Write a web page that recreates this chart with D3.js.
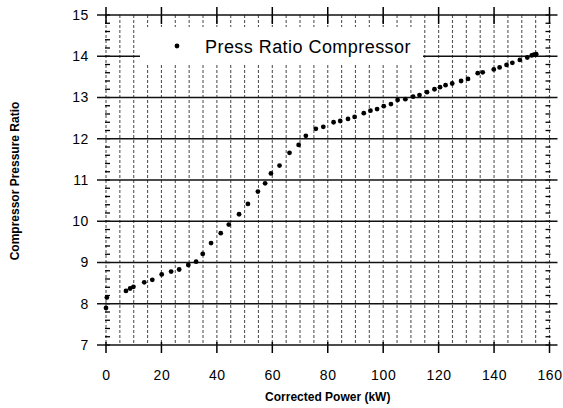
<!DOCTYPE html>
<html>
<head>
<meta charset="utf-8">
<script src="https://cdn.jsdelivr.net/npm/d3@7"></script>
<style>
  html, body { margin: 0; padding: 0; background: #fff; }
  svg { display: block; }
  text { font-family: "Liberation Sans", Arial, Helvetica, sans-serif; fill: #000; }
</style>
</head>
<body>
<svg id="chart" width="563" height="408"></svg>
<script>
// Compressor pressure ratio against corrected power
const power = [0, 0.3, 7.2, 8.7, 9.9, 13.8, 16.7, 20.1, 23.5, 26.4, 29.7, 32.5, 34.9, 37.9,
  41.4, 44.3, 48.0, 51.2, 54.8, 57.4, 59.5, 62.6, 66.2, 69.5, 72.1, 75.7, 78.4, 82.1,
  84.5, 87.3, 89.7, 93.0, 95.4, 97.8, 100.2, 102.8, 105.2, 108.0, 110.8, 113.1, 115.8,
  118.5, 120.5, 122.5, 124.9, 128.1, 130.6, 134.1, 135.9, 139.9, 142.0, 144.5, 146.6,
  149.3, 152.0, 153.6, 154.4, 155.2];
const ratio = [7.9, 8.15, 8.31, 8.37, 8.41, 8.52, 8.58, 8.71, 8.78, 8.83, 8.94, 9.02, 9.21, 9.47,
  9.71, 9.92, 10.17, 10.42, 10.72, 10.92, 11.16, 11.35, 11.66, 11.85, 12.07, 12.24, 12.29, 12.40,
  12.43, 12.48, 12.53, 12.62, 12.68, 12.72, 12.79, 12.84, 12.94, 12.96, 13.02, 13.06, 13.13,
  13.20, 13.25, 13.30, 13.34, 13.40, 13.45, 13.59, 13.61, 13.68, 13.73, 13.79, 13.84,
  13.91, 13.97, 14.02, 14.04, 14.05];
const xTicks = [0, 20, 40, 60, 80, 100, 120, 140, 160];
const yTicks = [7, 8, 9, 10, 11, 12, 13, 14, 15];
const seriesName = "Press Ratio Compressor";
const xTitle = "Corrected Power (kW)";
const yTitle = "Compressor Pressure Ratio";

const svg = d3.select("#chart");
const x = d3.scaleLinear().domain([0, 160]).range([106, 549.5]);
const y = d3.scaleLinear().domain([7, 15]).range([345, 15]);

const grid = svg.append("g");

// vertical dashed grid every 5 kW
grid.selectAll("line.v").data(d3.range(0, 161, 5)).join("line")
  .attr("x1", d => x(d)).attr("x2", d => x(d))
  .attr("y1", y(15)).attr("y2", y(7))
  .attr("stroke", "#555").attr("stroke-width", 1.1)
  .attr("stroke-dasharray", "3,2");

// major ticks at every 20 kW crossing the top and bottom frame
grid.selectAll("line.tt").data(xTicks).join("line")
  .attr("x1", d => x(d)).attr("x2", d => x(d))
  .attr("y1", y(15) - 8).attr("y2", y(15) + 9)
  .attr("stroke", "#000").attr("stroke-width", 1.5);
grid.selectAll("line.tb").data(xTicks).join("line")
  .attr("x1", d => x(d)).attr("x2", d => x(d))
  .attr("y1", y(7) - 3).attr("y2", y(7) + 8)
  .attr("stroke", "#000").attr("stroke-width", 1.5);

// minor ticks on both side frames, every 0.2
const minor = d3.range(7, 15.001, 0.2);
grid.selectAll("line.ml").data(minor).join("line")
  .attr("x1", x(0) - 1).attr("x2", x(0) + 4)
  .attr("y1", d => y(d)).attr("y2", d => y(d))
  .attr("stroke", "#000").attr("stroke-width", 1.3);
grid.selectAll("line.mr").data(minor).join("line")
  .attr("x1", x(160) - 4).attr("x2", x(160) + 1)
  .attr("y1", d => y(d)).attr("y2", d => y(d))
  .attr("stroke", "#000").attr("stroke-width", 1.3);

// horizontal grid at every unit of pressure ratio
grid.selectAll("line.h").data(yTicks).join("line")
  .attr("x1", x(0) - 9).attr("x2", x(160) + 8)
  .attr("y1", d => y(d)).attr("y2", d => y(d))
  .attr("stroke", "#111").attr("stroke-width", 1.6);

// legend box
const lg = svg.append("g");
lg.append("rect").attr("x", 140).attr("y", 27).attr("width", 283).attr("height", 36)
  .attr("fill", "#fff");
lg.append("circle").attr("cx", 177).attr("cy", 46).attr("r", 2.4).attr("fill", "#000");
lg.append("text").attr("x", 205).attr("y", 52.5).attr("font-size", 18)
  .attr("letter-spacing", 0.45).text(seriesName);

// data points
svg.append("g").selectAll("circle").data(power.map((p, i) => [p, ratio[i]])).join("circle")
  .attr("cx", d => x(d[0])).attr("cy", d => y(d[1])).attr("r", 2.4).attr("fill", "#000");

// axis labels
const xAxis = svg.append("g").attr("transform", `translate(0,${y(7) + 25})`)
  .call(d3.axisBottom(x).tickValues(xTicks).tickSize(0).tickPadding(0));
xAxis.select(".domain").remove();
xAxis.selectAll("text").attr("font-size", 14).attr("dy", "0.71em")
  .attr("letter-spacing", 0.6)
  .style("font-family", "Liberation Sans, Arial, sans-serif");

const yAxis = svg.append("g").attr("transform", `translate(${x(0) - 17},0)`)
  .call(d3.axisLeft(y).tickValues(yTicks).tickSize(0).tickPadding(0));
yAxis.select(".domain").remove();
yAxis.selectAll("text").attr("font-size", 14).attr("letter-spacing", 0.6)
  .style("font-family", "Liberation Sans, Arial, sans-serif");

svg.append("text").attr("x", (x(0) + x(160)) / 2).attr("y", 401)
  .attr("text-anchor", "middle").attr("font-size", 12).attr("font-weight", "bold")
  .text(xTitle);
svg.append("text").attr("transform", "translate(19,181) rotate(-90)")
  .attr("text-anchor", "middle").attr("font-size", 12).attr("font-weight", "bold")
  .text(yTitle);
</script>
</body>
</html>
